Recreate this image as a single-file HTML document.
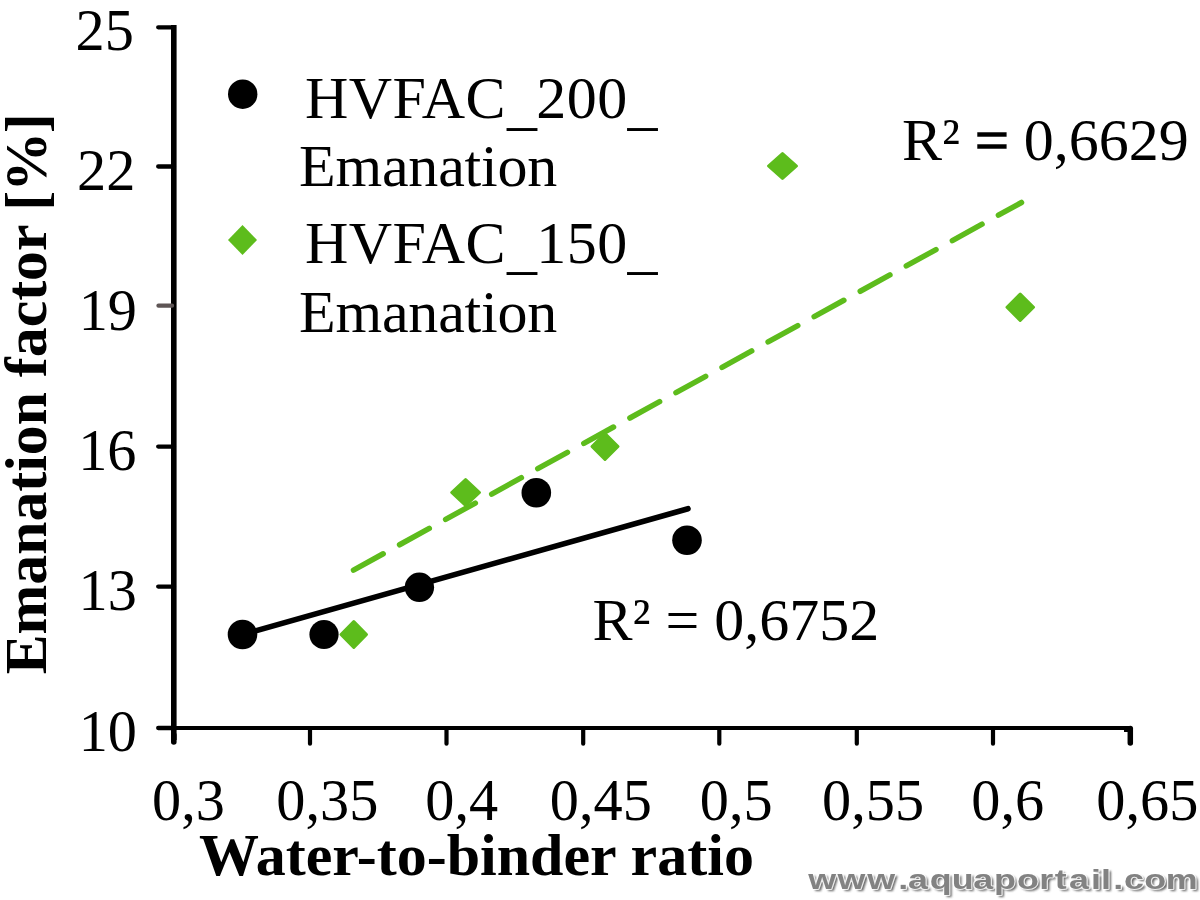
<!DOCTYPE html>
<html><head><meta charset="utf-8"><title>Emanation factor vs water-to-binder ratio</title>
<style>
html,body{margin:0;padding:0;background:#fff;}
body{width:1200px;height:900px;overflow:hidden;}
svg{display:block;filter:blur(0.4px);}
text{font-family:"Liberation Serif","Times New Roman",serif;fill:#000;font-size:60px;}
.b{font-weight:bold;}
.wm{font-family:"Liberation Sans",Arial,sans-serif;font-weight:bold;font-size:28px;}
</style></head><body>
<svg width="1200" height="900" viewBox="0 0 1200 900">
<defs><filter id="bl" x="-5%" y="-30%" width="110%" height="160%"><feGaussianBlur stdDeviation="1"/></filter></defs>
<rect width="1200" height="900" fill="#fff"/>
<!-- axes -->
<g stroke="#000" fill="none" stroke-linecap="butt">
<path d="M173.8 25V740" stroke-width="5.6"/>
<path d="M173.8 735V742" stroke-width="5.6" stroke-linecap="round"/>
<path d="M158 728H1131" stroke-width="4.2"/>
<path d="M158.2 27.3H174M158.2 166.5H174M158.2 446.6H174M158.2 586.6H174M158.2 728H174" stroke-width="4.3" stroke-linecap="round"/>
<path d="M158.5 305.7H172" stroke-width="4.3" stroke="#5e5555" stroke-linecap="round"/>
<path d="M310 728V743.7M446.5 728V743.7M583.2 728V743.7M719.3 728V743.7M856.8 728V743.7M993 728V743.7" stroke-width="4.2" stroke-linecap="round"/>
<path d="M1130.3 728.5V743" stroke-width="5.5" stroke-linecap="round"/>
<path d="M1124 726.2L1130 726.2L1133 729V732H1124Z" fill="#000" stroke="none"/>
</g>
<!-- y tick labels -->
<g transform="scale(0.972,1)">
<text x="77.8" y="50.3">25</text>
<text x="79.2" y="189.6">22</text>
<text x="80.9" y="329.9">19</text>
<text x="80.4" y="470.3">16</text>
<text x="80.8" y="610.0">13</text>
<text x="81.0" y="750.8">10</text>
</g>
<!-- x tick labels -->
<g transform="scale(0.972,1)">
<text x="156.4" y="820.3">0,3</text>
<text x="284.3" y="820.3">0,35</text>
<text x="437.6" y="820.3">0,4</text>
<text x="565.6" y="820.3">0,45</text>
<text x="719.9" y="820.3">0,5</text>
<text x="845.7" y="820.3">0,55</text>
<text x="999.3" y="820.3">0,6</text>
<text x="1127.9" y="820.3">0,65</text>
</g>
<!-- axis titles -->
<text class="b" x="199" y="875">Water-to-binder ratio</text>
<text class="b" transform="translate(45.5,674.3) rotate(-90) scale(0.996,1)">Emanation factor <tspan style="letter-spacing:-1.1px">[%]</tspan></text>
<!-- legend -->
<circle cx="242.7" cy="94.2" r="14.7"/>
<text x="305" y="118.3" style="letter-spacing:0.4px">HVFAC<tspan dy="4.5" dx="1">_</tspan><tspan dy="-4.5" dx="-1">200</tspan><tspan dy="4.5">_</tspan></text>
<text x="299" y="185.7" style="letter-spacing:-0.2px">Emanation</text>
<path d="M242.5 225L257 240L242.5 255L228 240Z" fill="#5dbc1c"/>
<text x="305" y="262.7" style="letter-spacing:0.4px">HVFAC<tspan dy="4.5" dx="1">_</tspan><tspan dy="-4.5" dx="-1">150</tspan><tspan dy="4.5">_</tspan></text>
<text x="299" y="331.7" style="letter-spacing:-0.2px">Emanation</text>
<!-- trend lines -->
<path d="M353.5 570.1L1021.5 202.5" stroke="#5dbc1c" stroke-width="5.5" stroke-dasharray="33.9 18.68" fill="none" stroke-linecap="round"/>
<path d="M242.5 634.5L688 508.7" stroke="#000" stroke-width="5.6" fill="none" stroke-linecap="round"/>
<!-- points -->
<g fill="#000">
<circle cx="242.5" cy="634.5" r="14.8"/><circle cx="324" cy="634.5" r="14.6"/><circle cx="419.4" cy="587.3" r="14.7"/><circle cx="536.3" cy="492.8" r="14.8"/><circle cx="687" cy="540.3" r="14.8"/>
</g>
<g fill="#5dbc1c" stroke="#5dbc1c" stroke-width="3" stroke-linejoin="round">
<path d="M353.8 621.5L366.5 634.5L353.8 647.5L341 634.5Z"/>
<path d="M465.6 479.5L479.5 492.5L465.6 505.5L451.7 492.5Z"/>
<path d="M605 433.5L618 446.5L605 459.5L592 446.5Z"/>
<path d="M782.5 153.5L796.5 166L782.5 178.5L768.5 166Z"/>
<path d="M1020.2 294L1033.5 307.2L1020.2 320.5L1007 307.2Z"/>
</g>
<!-- R2 labels -->
<text x="902" y="159.6">R² <tspan stroke="#000" stroke-width="1.4">=</tspan> 0,6629</text>
<text x="592.5" y="639.6">R² = 0,6752</text>
<!-- watermark -->
<g transform="translate(0,888.5) scale(1.28,1)">
<text class="wm" transform="translate(2,2.6)" x="631.4 654.4 677.5 701.8 709.3 726.3 743.5 760.3 776.6 794.5 812.0 824.0 835.2 852.4 860.2 869.8 878.2 894.0 910.7" y="0" style="fill:#3c3c3c;opacity:.8" filter="url(#bl)">www.aquaportail.com</text>
<text class="wm" x="631.4 654.4 677.5 701.8 709.3 726.3 743.5 760.3 776.6 794.5 812.0 824.0 835.2 852.4 860.2 869.8 878.2 894.0 910.7" y="0" style="fill:#fff;stroke:#fff;stroke-width:2;stroke-linejoin:round;opacity:.85">www.aquaportail.com</text>
<text class="wm" x="631.4 654.4 677.5 701.8 709.3 726.3 743.5 760.3 776.6 794.5 812.0 824.0 835.2 852.4 860.2 869.8 878.2 894.0 910.7" y="0" style="fill:#828282">www.aquaportail.com</text>
</g>
</svg>
</body></html>
